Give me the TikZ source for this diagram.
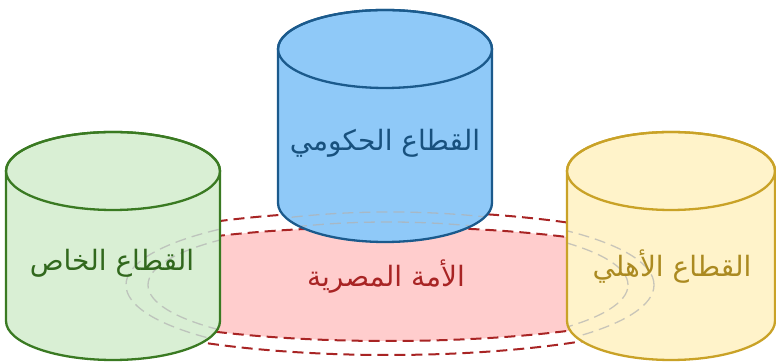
\documentclass[tikz,border=0pt]{standalone}
\usepackage{fontspec}
\newfontfamily\arabicfont[Script=Arabic]{DejaVu Sans}
\TeXXeTstate=1
\definecolor{privfill}{HTML}{D9EFD4}
\definecolor{privline}{HTML}{3A7A22}
\definecolor{govfill}{HTML}{8FC9F8}
\definecolor{govline}{HTML}{1B5A8C}
\definecolor{civfill}{HTML}{FFF3CA}
\definecolor{civline}{HTML}{C9A227}
\definecolor{nationfill}{HTML}{FFCDCD}
\definecolor{nationline}{HTML}{A82424}
% outline of a drum: x, top y, bottom y, x radius, y radius
\newcommand{\drumpath}[5]{(#1-#4,#2) -- (#1-#4,#3) arc[start angle=180,end angle=360,x radius=#4,y radius=#5] -- (#1+#4,#2) arc[start angle=0,end angle=180,x radius=#4,y radius=#5] -- cycle}
\begin{document}
\begin{tikzpicture}[x=1pt,y=1pt,line join=round,
drum/.style={line width=2.3pt},
ring/.style={dashed,dash pattern=on 11pt off 6pt,line width=2pt,nationline},
seethrough/.style={dashed,dash pattern=on 11pt off 6pt,line width=1.3pt,gray!60,opacity=.7},
label/.style={font=\arabicfont\fontsize{28}{32}\selectfont}]
\useasboundingbox (0,0) rectangle (776,363);
% the nation
\fill[nationfill] (388,79) ellipse[x radius=316,y radius=57];
\draw[ring] (388,79) ellipse[x radius=316,y radius=57];
\draw[ring] (388,80) ellipse[x radius=330,y radius=72];
% private sector
\fill[privfill] \drumpath{113}{192}{42}{107}{39};
\begin{scope}
\clip \drumpath{113}{192}{42}{107}{39};
\draw[seethrough] (390,78) ellipse[x radius=264,y radius=73];
\draw[seethrough] (388,78) ellipse[x radius=240,y radius=63];
\end{scope}
\draw[drum,privline] \drumpath{113}{192}{42}{107}{39};
\draw[drum,privline] (113,192) ellipse[x radius=107,y radius=39];
% government sector
\fill[govfill] \drumpath{385}{314}{160}{107}{39};
\begin{scope}
\clip \drumpath{385}{314}{160}{107}{39};
\draw[seethrough] (390,78) ellipse[x radius=264,y radius=73];
\draw[seethrough] (388,78) ellipse[x radius=240,y radius=63];
\end{scope}
\draw[drum,govline] \drumpath{385}{314}{160}{107}{39};
\draw[drum,govline] (385,314) ellipse[x radius=107,y radius=39];
% civil sector
\fill[civfill] \drumpath{671}{192}{42}{104}{39};
\begin{scope}
\clip \drumpath{671}{192}{42}{104}{39};
\draw[seethrough] (390,78) ellipse[x radius=264,y radius=73];
\draw[seethrough] (388,78) ellipse[x radius=240,y radius=63];
\end{scope}
\draw[drum,civline] \drumpath{671}{192}{42}{104}{39};
\draw[drum,civline] (671,192) ellipse[x radius=104,y radius=39];
\begin{scope}[every node/.style={label}]
\node[text=privline!85!black] (private) at (112,100) {\beginR القطاع الخاص\endR};
\node[text=govline!90!black] (government) at (385,220) {\beginR القطاع الحكومي\endR};
\node[text=nationline] (nation) at (386,86) {\beginR الأمة المصرية\endR};
\node[text=civline!85!black] (civil) at (672,96) {\beginR القطاع الأهلي\endR};
\end{scope}
\end{tikzpicture}
\end{document}
